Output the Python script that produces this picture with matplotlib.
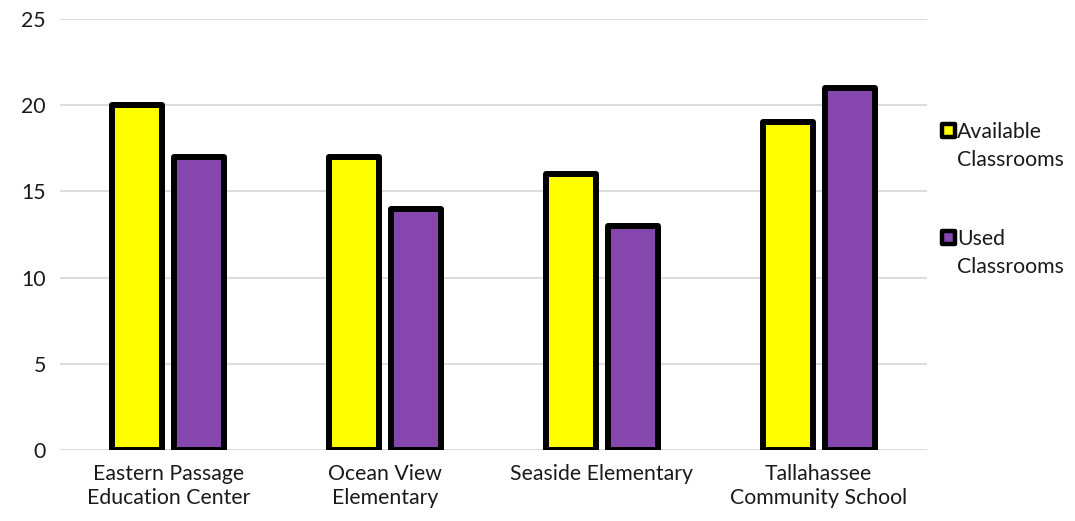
import numpy as np
import matplotlib.pyplot as plt
from matplotlib.patches import Rectangle

plt.rcParams['font.family'] = ['Lato', 'DejaVu Sans']

schools = ['Eastern Passage\nEducation Center', 'Ocean View\nElementary',
           'Seaside Elementary', 'Tallahassee\nCommunity School']
available = [20, 17, 16, 19]
used = [17, 14, 13, 21]
series_labels = ['Available\nClassrooms', 'Used\nClassrooms']
colors = ['#FFFF00', '#8547AD']

W, H = 1075, 521
fig = plt.figure(figsize=(W / 100, H / 100), dpi=100)
ax = fig.add_axes([0.0558, 0.1363, 0.8065, 0.8272])

x = np.arange(len(schools))
w = 0.23
off = 0.143
for vals, dx, col in [(available, -off, colors[0]), (used, off, colors[1])]:
    bars = ax.bar(x + dx, vals, w, color=col, edgecolor='black', linewidth=4.3, zorder=3)
    for b in bars:
        b.set_joinstyle('round')

ax.set_xlim(-0.5, 3.5)
ax.set_ylim(0, 25)
ax.set_yticks([0, 5, 10, 15, 20, 25])
ax.set_xticks(x)
ax.set_xticklabels(schools, fontsize=15.3, color='#1a1a1a', linespacing=1.25)
ax.tick_params(axis='y', labelsize=15.3, colors='#1a1a1a', length=0, pad=10)
ax.tick_params(axis='x', length=0, pad=10)
ax.grid(axis='y', color='#D9D9D9', linewidth=1.3, zorder=0)
for s in ax.spines.values():
    s.set_visible(False)

# legend drawn by hand: square marker sits beside the first text line
for i, (lab, col) in enumerate(zip(series_labels, colors)):
    ytop = 123 + i * 107  # pixel row of marker top
    fig.add_artist(Rectangle(((W - 133) / W, (H - ytop - 14) / H), 13 / W, 13 / H,
                             transform=fig.transFigure, facecolor=col, edgecolor='black',
                             linewidth=3.2, joinstyle='round'))
    fig.text(957 / W, (H - ytop + 1) / H, lab, fontsize=15.3, color='#1a1a1a',
             ha='left', va='top', linespacing=1.5)

fig.savefig('out.png', dpi=100)
